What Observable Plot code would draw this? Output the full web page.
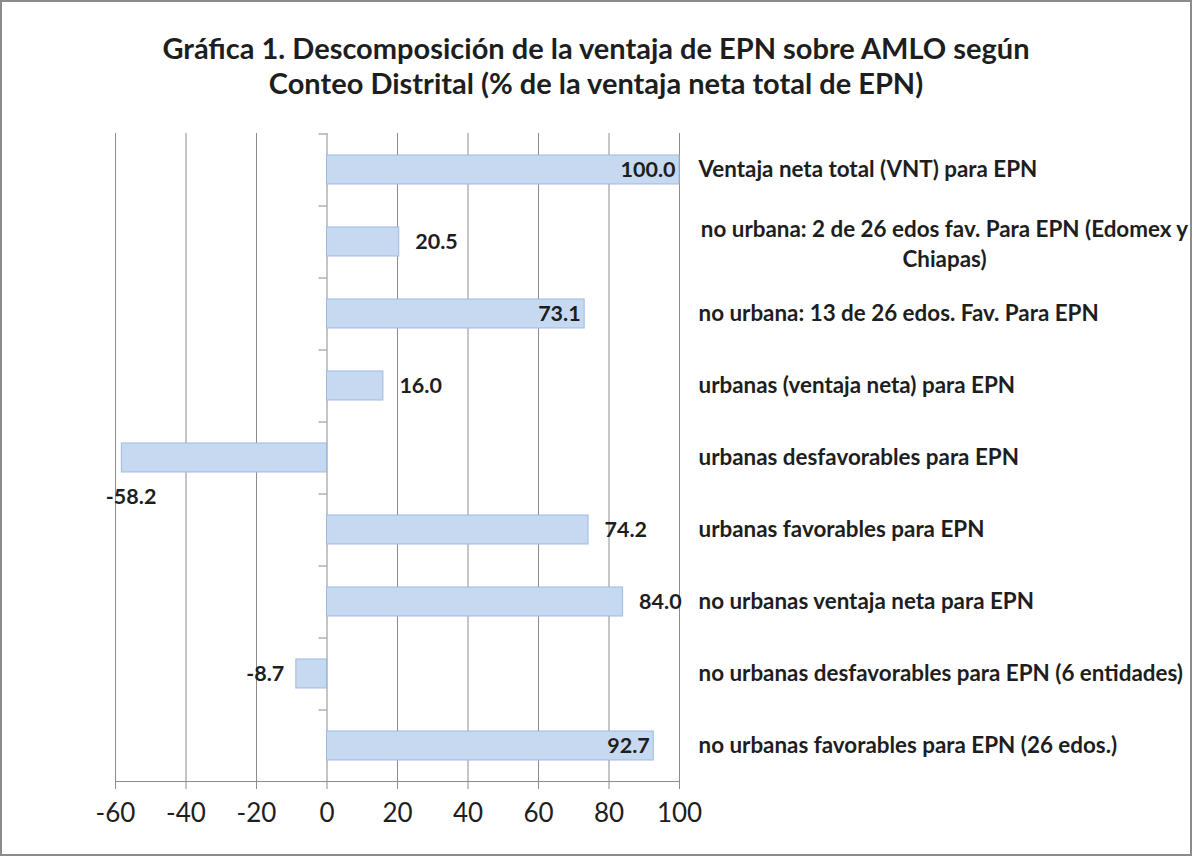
<!DOCTYPE html>
<html>
<head>
<meta charset="utf-8">
<script src="https://cdn.jsdelivr.net/npm/d3@7"></script>
<script src="https://cdn.jsdelivr.net/npm/@observablehq/plot@0.6"></script>
<style>
  html, body { margin: 0; padding: 0; background: #fff; }
  #wrap { position: relative; width: 1192px; height: 856px; box-sizing: border-box; outline: 2px solid #8c8c8c; outline-offset: -2px; font-family: Lato, "Open Sans", sans-serif; }
  #title { height: 110px; box-sizing: border-box; padding-top: 30px; text-align: center; font-weight: bold; font-size: 29px; line-height: 35px; color: #1e1e1e; }
  #chart svg { display: block; }
</style>
</head>
<body>
<div id="wrap">
  <div id="title">Gráfica 1. Descomposición de la ventaja de EPN sobre AMLO según<br>Conteo Distrital (% de la ventaja neta total de EPN)</div>
  <div id="chart"></div>
</div>
<script>
const categories = [
  "Ventaja neta total (VNT) para EPN",
  "no urbana: 2 de 26 edos fav. Para EPN (Edomex y\nChiapas)",
  "no urbana: 13 de 26 edos. Fav. Para EPN",
  "urbanas (ventaja neta) para EPN",
  "urbanas desfavorables para EPN",
  "urbanas favorables para EPN",
  "no urbanas ventaja neta para EPN",
  "no urbanas desfavorables para EPN (6 entidades)",
  "no urbanas favorables para EPN (26 edos.)"
];
const values = [100.0, 20.5, 73.1, 16.0, -58.2, 74.2, 84.0, -8.7, 92.7];
const xTicks = [-60, -40, -20, 0, 20, 40, 60, 80, 100];
const insideLabels = ["Ventaja neta total (VNT) para EPN", "no urbana: 13 de 26 edos. Fav. Para EPN", "no urbanas favorables para EPN (26 edos.)"];

const data = categories.map((c, i) => ({category: c, value: values[i], label: values[i].toFixed(1)}));
const isInside = d => insideLabels.includes(d.category);
const posOut = data.filter(d => d.value >= 0 && !isInside(d));
const posIn = data.filter(d => d.value >= 0 && isInside(d));
const negSmall = data.filter(d => d.value < 0 && d.value > -30);
const negBig = data.filter(d => d.value <= -30);
const singleLine = data.filter(d => !d.category.includes("\n"));
const multiLine = data.filter(d => d.category.includes("\n"));

const textColor = "#1e1e1e";
const gridColor = "#8c8c8c";
const valueFont = 21.5;
const catFont = 22.4;

// width/height of plot area in px, used to size the little category tick marks on the zero axis
const plotW = 1192 - 115 - 513;
const plotH = 726 - 23 - 55;
const xSpan = 160;
const halfStep = plotH / categories.length / 2;
const tickLenUnits = 8 * xSpan / plotW;

const chart = Plot.plot({
  width: 1192,
  height: 726,
  marginTop: 23,
  marginBottom: 55,
  marginLeft: 115,
  marginRight: 513,
  style: {fontFamily: "Lato, 'Open Sans', sans-serif", color: textColor, background: "transparent", overflow: "visible"},
  x: {domain: [-60, 100], ticks: xTicks, label: null},
  y: {domain: categories, paddingInner: 0.6, paddingOuter: 0.3, axis: null},
  marks: [
    Plot.gridX(xTicks, {stroke: gridColor, strokeOpacity: 1, strokeWidth: 1}),
    Plot.frame({anchor: "bottom", stroke: gridColor, strokeWidth: 1}),
    Plot.axisX(xTicks, {tickSize: 8, tickPadding: 14, stroke: gridColor, fontSize: 26, fill: textColor, label: null, tickFormat: d => String(d)}),
    Plot.ruleY(categories, {y: d => d, x1: 0, x2: -tickLenUnits, dy: -halfStep, stroke: gridColor, strokeWidth: 1}),
    Plot.barX(data, {x: "value", y: "category", fill: "#c6d9f0", stroke: "#9dbbe1", strokeWidth: 1}),
    Plot.text(posIn, {x: "value", y: "category", text: "label", textAnchor: "end", dx: -4, fontSize: valueFont, fontWeight: "bold", fill: textColor}),
    Plot.text(posOut, {x: "value", y: "category", text: "label", textAnchor: "start", dx: 16, fontSize: valueFont, fontWeight: "bold", fill: textColor}),
    Plot.text(negSmall, {x: "value", y: "category", text: "label", textAnchor: "end", dx: -12, fontSize: valueFont, fontWeight: "bold", fill: textColor}),
    Plot.text(negBig, {x: "value", y: "category", text: "label", textAnchor: "start", dx: -16, dy: 39, fontSize: valueFont, fontWeight: "bold", fill: textColor}),
    Plot.text(singleLine, {x: () => 100, y: "category", text: "category", textAnchor: "start", dx: 19, fontSize: catFont, fontWeight: "bold", fill: textColor}),
    Plot.text(multiLine, {x: () => 100, y: "category", text: "category", textAnchor: "middle", dx: 265, lineHeight: 1.35, fontSize: catFont, fontWeight: "bold", fill: textColor})
  ]
});
document.getElementById("chart").appendChild(chart);
</script>
</body>
</html>
